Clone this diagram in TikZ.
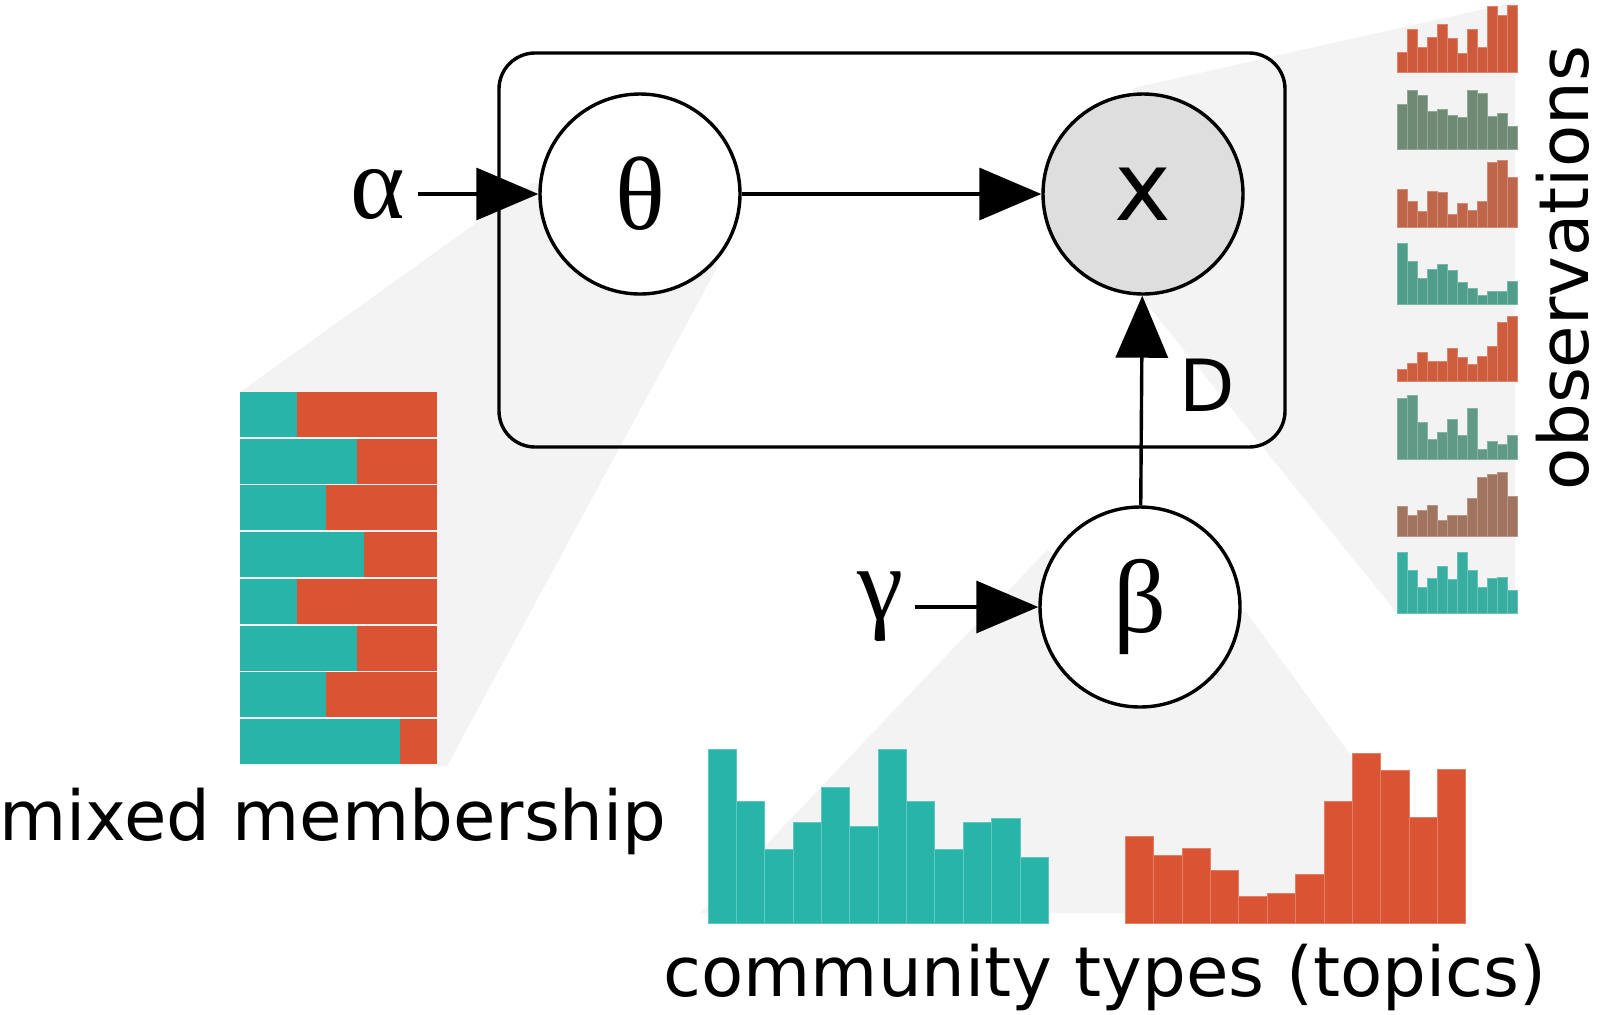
\documentclass[tikz,border=0pt]{standalone}
\usepackage{fontspec}
\setmainfont{DejaVu Sans}
\newfontfamily\greekfont{Liberation Serif}
\usepackage{tikz}
\usetikzlibrary{arrows.meta,positioning,backgrounds}

\definecolor{comteal}{RGB}{41,180,170}
\definecolor{comred}{RGB}{218,84,52}
\definecolor{shadegray}{RGB}{243,243,243}
\definecolor{obsfill}{RGB}{222,222,222}
\definecolor{obsA}{RGB}{207,90,59}
\definecolor{obsB}{RGB}{111,138,116}
\definecolor{obsC}{RGB}{191,102,74}
\definecolor{obsD}{RGB}{79,158,140}
\definecolor{obsE}{RGB}{205,93,60}
\definecolor{obsF}{RGB}{96,154,134}
\definecolor{obsG}{RGB}{160,116,94}
\definecolor{obsH}{RGB}{55,174,159}

\begin{document}
\begin{tikzpicture}[
    x=0.5pt, y=-0.5pt,
    var/.style={circle, draw, line width=1.7pt, fill=white, minimum size=100pt, inner sep=0pt, font=\greekfont\fontsize{52pt}{60pt}\selectfont},
    obs/.style={var, fill=obsfill, font=\fontsize{48pt}{56pt}\selectfont},
    hyper/.style={inner sep=6pt, font=\greekfont\fontsize{52pt}{60pt}\selectfont},
    plate/.style={rectangle, draw, line width=1.7pt, rounded corners=18pt, minimum width=393pt, minimum height=197pt},
    arrow/.style={-{Triangle[length=31pt, width=26pt]}, line width=1.7pt},
    caption/.style={inner sep=0pt, anchor=base, font=\fontsize{34.5pt}{40pt}\selectfont},
    shade/.style={fill=shadegray},
    bar/.style={line width=0.4pt}
]
    \useasboundingbox (0,0) rectangle (1600,1014);

    % model
    \node[plate] (plate) at (892,250) {};
    \node[var] (theta) at (640,194) {θ};
    \node[obs] (x) at (1143,194) {x};
    \node[var] (beta) at (1140,607) {β};
    \node[hyper] (alpha) at (378,194) {α};
    \node[hyper] (gamma) at (880,607) {γ};
    \node[inner sep=0pt, font=\fontsize{36pt}{42pt}\selectfont] (dlabel) at (1207,385) {D};

    \draw[arrow] (alpha) -- (theta);
    \draw[arrow] (theta) -- (x);
    \draw[arrow] (beta) -- (x);
    \draw[arrow] (gamma) -- (beta);

    % shaded wedges
    \begin{scope}[on background layer]
        \fill[shade] (240,392) -- (532,183) -- (theta.center) -- (718,266) -- (447,766) -- (240,766) -- cycle;
        \fill[shade] (1133,88) -- (1515,2) -- (1515,613) -- (1397,613) -- (1095,240) -- (x.center) -- cycle;
        \fill[shade] (1047,550) -- (701,913) -- (1466,913) -- (1246,612) -- (beta.center) -- cycle;
    \end{scope}

    % mixed membership
    \foreach \s [count=\i from 0] in {297,357,326,364,297,357,326,400} {
        \fill[comteal] (240,{392+\i*46.7}) rectangle (\s,{437+\i*46.7});
        \fill[comred] (\s,{392+\i*46.7}) rectangle (437,{437+\i*46.7});
    }
    \node[caption] (mixlabel) at (333,840) {mixed membership};

    % community types
    \foreach \h [count=\i from 0] in {749,801,849,822,787,826,749,801,849,822,818,857}
        \draw[bar, fill=comteal, draw=comteal!75!white] ({708+\i*28.36},923) rectangle ({736.36+\i*28.36},\h);
    \foreach \h [count=\i from 0] in {836,855,848,870,896,893,874,801,753,770,817,769}
        \draw[bar, fill=comred, draw=comred!75!white] ({1125.3+\i*28.37},923) rectangle ({1153.67+\i*28.37},\h);
    \node[caption] (toplabel) at (1105,996) {community types (topics)};

    % observations
    \foreach \c/\b/\hs in {
        obsA/72/{52,29,47,37,24,38,53,29,47,6,15,5},
        obsB/149/{104,90,95,111,109,115,117,90,93,116,113,126},
        obsC/227/{189,201,211,191,192,214,203,210,201,162,160,177},
        obsD/304/{243,261,278,269,264,270,282,288,295,291,291,281},
        obsE/381/{369,363,352,361,361,348,357,364,356,346,322,316},
        obsF/459/{398,395,422,439,432,419,435,408,449,441,444,435},
        obsG/536/{506,515,510,505,520,515,515,498,477,474,472,496},
        obsH/613/{552,570,587,578,566,579,552,570,587,578,577,590}}
        \foreach \h [count=\i from 0] in \hs
            \draw[bar, fill=\c, draw=\c!75!white] ({1397+\i*10.05},\b) rectangle ({1407.05+\i*10.05},\h);
    \node[caption, rotate=90] (obslabel) at (1588,268) {observations};
\end{tikzpicture}
\end{document}
